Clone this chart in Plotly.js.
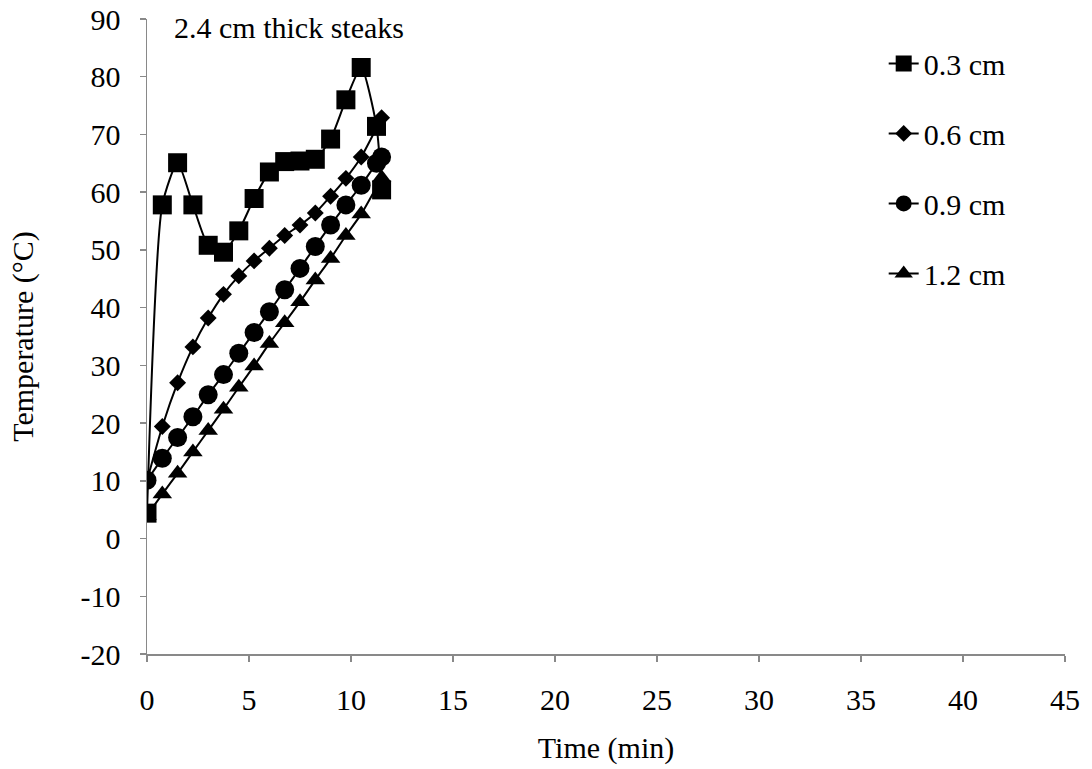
<!DOCTYPE html>
<html>
<head>
<meta charset="utf-8">
<script src="https://cdn.plot.ly/plotly-3.0.1.min.js"></script>
<style>
  html, body { margin: 0; padding: 0; background: #fff; }
  #chart { width: 1092px; height: 769px; }
</style>
</head>
<body>
<div id="chart"></div>
<script>
// Core temperature during cooking, measured at four depths
const timeA = [0, 0.75, 1.5, 2.25, 3, 3.75, 4.5, 5.25, 6, 6.75, 7.5, 8.25, 9, 9.75, 10.5, 11.25, 11.5];
const timeB = [0, 0.75, 1.5, 2.25, 3, 3.75, 4.5, 5.25, 6, 6.75, 7.5, 8.25, 9, 9.75, 10.5, 11.5];

const depth03 = [4.4, 57.8, 65.1, 57.8, 50.8, 49.6, 53.3, 58.9, 63.5, 65.3, 65.4, 65.7, 69.2, 76.0, 81.6, 71.4, 60.4];
const depth06 = [10.0, 19.4, 27.0, 33.2, 38.2, 42.3, 45.5, 48.1, 50.3, 52.5, 54.3, 56.4, 59.3, 62.4, 66.1, 72.9];
const depth09 = [10.1, 13.9, 17.5, 21.1, 24.9, 28.4, 32.1, 35.7, 39.3, 43.1, 46.8, 50.6, 54.3, 57.8, 61.2, 65.0, 66.1];
const depth12 = [4.0, 7.7, 11.3, 15.0, 18.7, 22.4, 26.2, 29.9, 33.8, 37.4, 41.0, 44.8, 48.5, 52.5, 56.2, 62.5];

const seriesNames = ['0.3 cm', '0.6 cm', '0.9 cm', '1.2 cm'];
const xTicks = [0, 5, 10, 15, 20, 25, 30, 35, 40, 45];
const yTicks = [-20, -10, 0, 10, 20, 30, 40, 50, 60, 70, 80, 90];

const FONT = '"Liberation Serif", "Times New Roman", serif';
const FS = 30;
const AXIS_GREY = '#898989';

function series(x, y, name, symbol, size) {
  return {
    x: x, y: y, name: name, type: 'scatter', mode: 'lines+markers',
    line: { color: '#000', width: 2, shape: 'spline', smoothing: 0.6 },
    marker: { symbol: symbol, size: size, color: '#000' },
    legendgroup: name
  };
}

const traces = [
  series(timeA, depth03, seriesNames[0], 'square', 19),
  series(timeB, depth06, seriesNames[1], 'diamond', 13),
  series(timeA, depth09, seriesNames[2], 'circle', 19),
  series(timeB, depth12, seriesNames[3], 'triangle-up', 17)
];

const layout = {
  width: 1092, height: 769,
  margin: { l: 147, r: 27, t: 19, b: 115 },
  paper_bgcolor: '#fff', plot_bgcolor: '#fff',
  font: { family: FONT, size: FS, color: '#000' },
  showlegend: true,
  legend: {
    x: 0.8025, y: 0.971, xanchor: 'left', yanchor: 'top',
    font: { family: FONT, size: FS, color: '#000' },
    tracegroupgap: 28, itemwidth: 30, bgcolor: 'rgba(0,0,0,0)'
  },
  xaxis: {
    range: [0, 45], tickvals: xTicks, ticktext: xTicks.map(String),
    showgrid: false, zeroline: false, showline: true,
    linecolor: AXIS_GREY, linewidth: 1.5,
    ticks: 'outside', ticklen: 6, tickcolor: AXIS_GREY, tickwidth: 1.5,
    ticklabelstandoff: 12,
    title: { text: 'Time (min)', font: { family: FONT, size: FS, color: '#000' }, standoff: 22 },
    tickfont: { family: FONT, size: FS, color: '#000' }
  },
  yaxis: {
    range: [-20, 90], tickvals: yTicks, ticktext: yTicks.map(String),
    showgrid: false, zeroline: false, showline: true,
    linecolor: AXIS_GREY, linewidth: 1.5,
    ticks: 'outside', ticklen: 6, tickcolor: AXIS_GREY, tickwidth: 1.5,
    ticklabelstandoff: 13,
    title: { text: 'Temperature (°C)', font: { family: FONT, size: FS, color: '#000' }, standoff: 38 },
    tickfont: { family: FONT, size: FS, color: '#000' }
  },
  annotations: [{
    text: '2.4 cm thick steaks', xref: 'paper', yref: 'paper',
    x: 0.027, y: 0.987, xanchor: 'left', yanchor: 'middle', showarrow: false,
    font: { family: FONT, size: FS, color: '#000' }
  }]
};

Plotly.newPlot('chart', traces, layout, { displayModeBar: false, staticPlot: true });
</script>
</body>
</html>
